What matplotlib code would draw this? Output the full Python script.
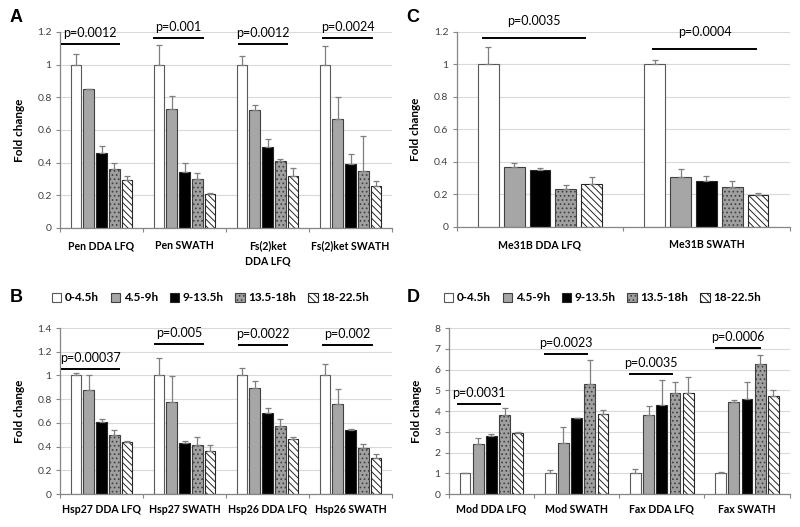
import numpy as np
import matplotlib
matplotlib.use("Agg")
import matplotlib.pyplot as plt
from matplotlib.patches import Patch
from matplotlib.ticker import FormatStrFormatter

plt.rcParams['font.family'] = ['Lato', 'DejaVu Sans']
plt.rcParams['hatch.linewidth'] = 0.7

# time windows (legend)
stages = ['0-4.5h', '4.5-9h', '9-13.5h', '13.5-18h', '18-22.5h']

# panel A
a_cats = ['Pen DDA LFQ', 'Pen SWATH', 'Fs(2)ket\nDDA LFQ', 'Fs(2)ket SWATH']
a_means = [[1.0, 0.85, 0.46, 0.36, 0.295],
           [1.0, 0.73, 0.34, 0.30, 0.205],
           [1.0, 0.72, 0.495, 0.41, 0.32],
           [1.0, 0.665, 0.39, 0.35, 0.255]]
a_errs = [[0.065, 0.0, 0.04, 0.035, 0.025],
          [0.12, 0.075, 0.06, 0.035, 0.01],
          [0.05, 0.035, 0.05, 0.015, 0.045],
          [0.115, 0.135, 0.06, 0.21, 0.035]]
a_pvals = ['p=0.0012', 'p=0.001', 'p=0.0012', 'p=0.0024']
a_pline = [1.125, 1.165, 1.125, 1.165]

# panel C
c_cats = ['Me31B DDA LFQ', 'Me31B SWATH']
c_means = [[1.0, 0.37, 0.35, 0.235, 0.265],
           [1.0, 0.31, 0.28, 0.245, 0.195]]
c_errs = [[0.105, 0.025, 0.012, 0.025, 0.045],
          [0.025, 0.045, 0.035, 0.04, 0.015]]
c_pvals = ['p=0.0035', 'p=0.0004']
c_pline = [1.165, 1.094]

# panel B
b_cats = ['Hsp27 DDA LFQ', 'Hsp27 SWATH', 'Hsp26 DDA LFQ', 'Hsp26 SWATH']
b_means = [[1.0, 0.88, 0.61, 0.50, 0.435],
           [1.0, 0.78, 0.43, 0.415, 0.365],
           [1.0, 0.895, 0.68, 0.57, 0.46],
           [1.0, 0.76, 0.54, 0.385, 0.305]]
b_errs = [[0.02, 0.12, 0.02, 0.04, 0.015],
          [0.15, 0.215, 0.02, 0.065, 0.05],
          [0.06, 0.055, 0.045, 0.06, 0.025],
          [0.095, 0.125, 0.005, 0.035, 0.03]]
b_pvals = ['p=0.00037', 'p=0.005', 'p=0.0022', 'p=0.002']
b_pline = [1.058, 1.263, 1.26, 1.26]

# panel D
d_cats = ['Mod DDA LFQ', 'Mod SWATH', 'Fax DDA LFQ', 'Fax SWATH']
d_means = [[1.0, 2.4, 2.78, 3.82, 2.96],
           [1.0, 2.45, 3.68, 5.31, 3.86],
           [1.0, 3.82, 4.27, 4.85, 4.88],
           [1.0, 4.42, 4.58, 6.26, 4.74]]
d_errs = [[0.03, 0.29, 0.12, 0.31, 0.02],
          [0.15, 0.8, 0.0, 1.15, 0.19],
          [0.22, 0.42, 1.23, 0.54, 0.74],
          [0.07, 0.12, 0.84, 0.46, 0.26]]
d_pvals = ['p=0.0031', 'p=0.0023', 'p=0.0035', 'p=0.0006']
d_pline = [4.35, 6.75, 5.79, 7.02]

# bar styles for the five stages
fills = ['white', '#a6a6a6', 'black', '#a0a0a0', 'white']
hatches = [None, None, None, '....', '\\\\\\\\\\']
edges = ['#595959', '#404040', '#262626', '#404040', '#262626']

width = 0.125
pitch = 0.155


def draw_panel(ax, cats, means, errs, ymax, ystep, pvals, pline, spans, poff, pad):
    n = len(cats)
    centers = np.arange(n)
    for i in range(5):
        x = centers + (i - 2) * pitch
        vals = [m[i] for m in means]
        up = [e[i] for e in errs]
        ax.bar(x, vals, width, color=fills[i], hatch=hatches[i],
               edgecolor=edges[i], linewidth=0.8, zorder=2)
        ax.errorbar(x, vals, yerr=[np.zeros(n), up], fmt='none',
                    ecolor='#7f7f7f', elinewidth=0.9, capsize=2.5,
                    capthick=0.9, zorder=3)

    ax.set_xlim(-0.5, n - 0.5)
    ax.set_ylim(0, ymax)
    ax.set_yticks(np.arange(0, ymax + ystep / 2, ystep))
    ax.yaxis.set_major_formatter(FormatStrFormatter('%g'))
    ax.grid(axis='y', color='#d9d9d9', linewidth=0.8, zorder=0)
    ax.set_axisbelow(True)

    ax.set_xticks(np.arange(n + 1) - 0.5)
    ax.set_xticklabels([])
    ax.set_xticks(centers, minor=True)
    ax.set_xticklabels(cats, minor=True, fontsize=7.6, fontweight='bold',
                       linespacing=1.4, va='top')
    ax.tick_params(axis='x', which='major', length=3, color='#868686')
    ax.tick_params(axis='x', which='minor', length=0, pad=pad)
    ax.tick_params(axis='y', length=3, color='#868686', labelsize=7.5,
                   labelcolor='#404040', pad=3)

    for side in ['top', 'right']:
        ax.spines[side].set_visible(False)
    for side in ['left', 'bottom']:
        ax.spines[side].set_color('#868686')
        ax.spines[side].set_linewidth(0.9)

    ax.set_ylabel('Fold change', fontsize=8.5, fontweight='bold', labelpad=9)

    # significance bars
    for k in range(n):
        x0 = centers[k] + spans[k][0]
        x1 = centers[k] + spans[k][1]
        ax.plot([x0, x1], [pline[k], pline[k]], color='black', linewidth=1.4,
                clip_on=False, zorder=4)
        ax.annotate(pvals[k], ((x0 + x1) / 2, pline[k]), xytext=(0, poff),
                    textcoords='offset points', ha='center', va='bottom',
                    fontsize=9, annotation_clip=False)


fig = plt.figure(figsize=(8, 5.27), dpi=100)
ax_a = fig.add_axes([0.075, 0.5674, 0.415, 0.372])
ax_c = fig.add_axes([0.571, 0.5693, 0.416, 0.370])
ax_b = fig.add_axes([0.075, 0.0626, 0.415, 0.315])
ax_d = fig.add_axes([0.561, 0.0626, 0.426, 0.315])

draw_panel(ax_a, a_cats, a_means, a_errs, 1.2, 0.2, a_pvals, a_pline,
           [(-0.48, 0.21), (-0.37, 0.22), (-0.34, 0.23), (-0.33, 0.26)], 3.5, 9)
draw_panel(ax_c, c_cats, c_means, c_errs, 1.2, 0.2, c_pvals, c_pline,
           [(-0.344, 0.27), (-0.32, 0.30)], 8, 9)
draw_panel(ax_b, b_cats, b_means, b_errs, 1.4, 0.2, b_pvals, b_pline,
           [(-0.48, 0.21), (-0.355, 0.227), (-0.34, 0.24), (-0.335, 0.263)], 3.5, 7)
draw_panel(ax_d, d_cats, d_means, d_errs, 8, 1, d_pvals, d_pline,
           [(-0.39, 0.10), (-0.366, 0.12), (-0.37, 0.125), (-0.36, 0.15)], 3.5, 7)

# legends for B and D
handles = [Patch(facecolor=fills[i], edgecolor=edges[i], hatch=hatches[i],
                 linewidth=0.8) for i in range(5)]
for ax, cx in [(ax_b, 0.263), (ax_d, 0.753)]:
    ax.legend(handles, stages, ncol=5, loc='center', bbox_to_anchor=(cx, 0.435),
              bbox_transform=fig.transFigure, frameon=False, handlelength=0.8,
              handleheight=0.8, handletextpad=0.3, columnspacing=1.0,
              prop={'weight': 'bold', 'size': 8.5})

# panel letters
for letter, x, y in [('A', 0.012, 0.966), ('C', 0.508, 0.966),
                     ('B', 0.012, 0.436), ('D', 0.508, 0.436)]:
    fig.text(x, y, letter, fontsize=13, fontweight='bold', va='center',
             family='Liberation Sans')

fig.savefig('out.png', dpi=100)
